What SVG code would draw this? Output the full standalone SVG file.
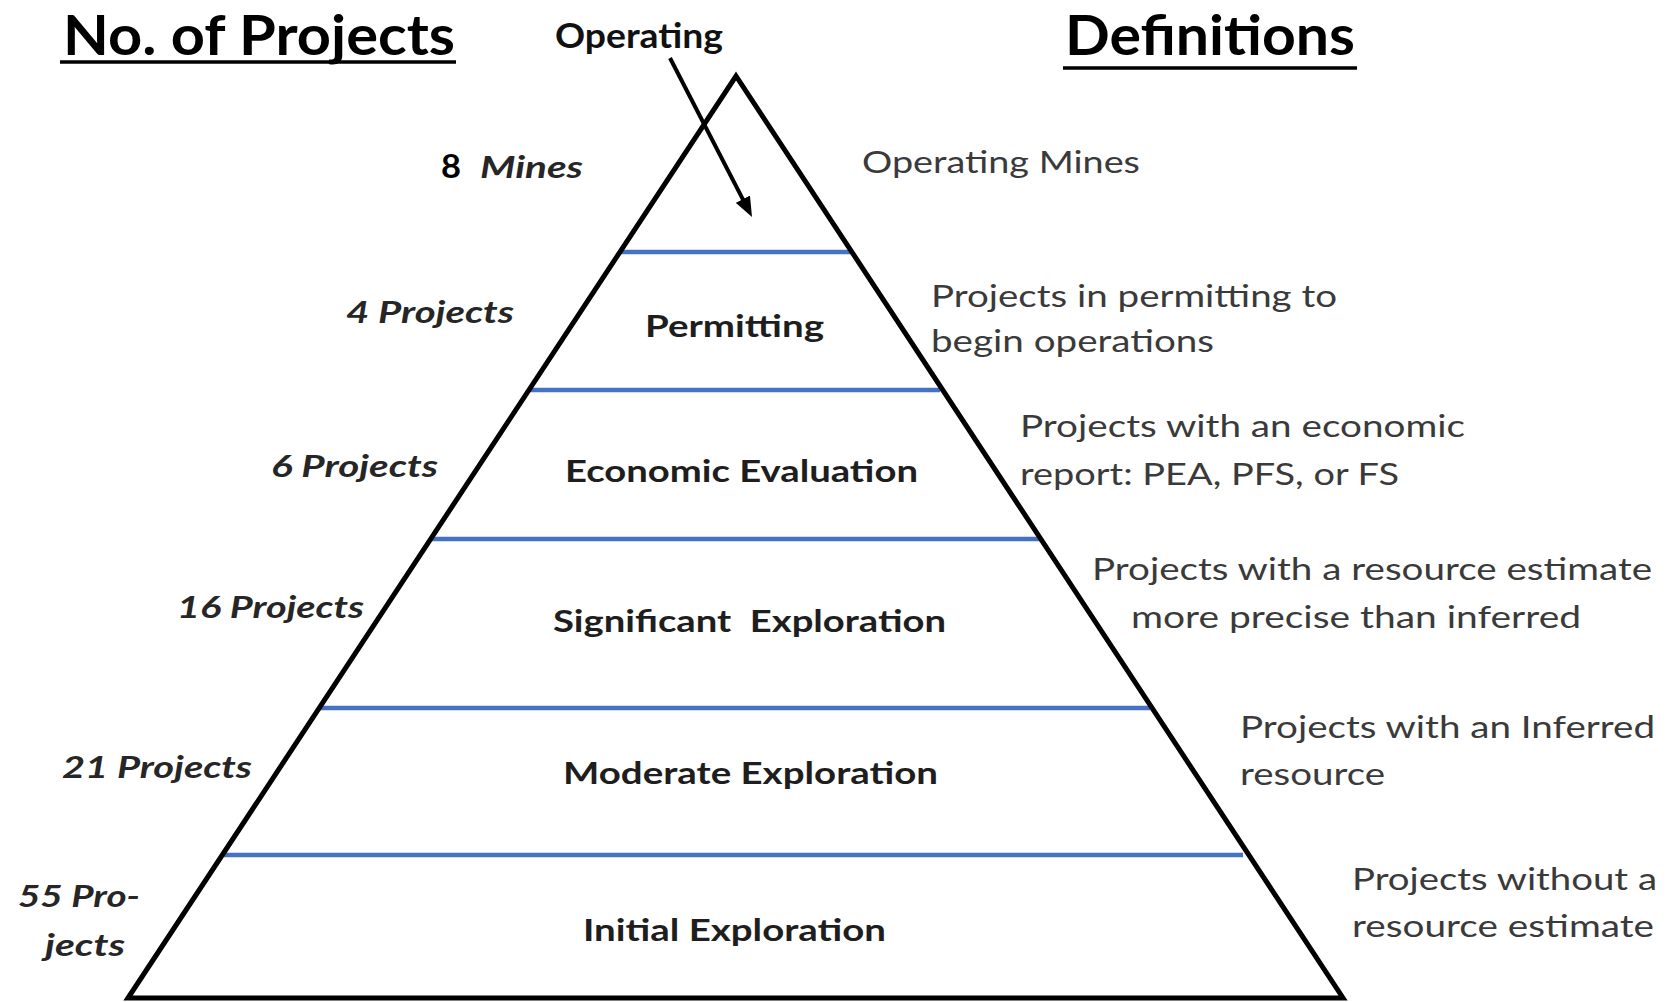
<svg xmlns="http://www.w3.org/2000/svg" width="1671" height="1002" viewBox="0 0 1671 1002">
<style>
text { font-family: Lato, "Open Sans", "Liberation Sans", sans-serif; }
.title { font-size: 56px; font-weight: 700; fill: #000; }
.op { font-size: 35px; font-weight: 700; fill: #111; }
.count { font-size: 31px; font-weight: 700; font-style: italic; fill: #262626; }
.num { font-size: 33px; font-weight: 700; fill: #000; }
.tier { font-size: 31px; font-weight: 700; fill: #1e1e1e; }
.def { font-size: 31px; font-weight: 400; fill: #3a3a3a; }
.ul { stroke: #000; stroke-width: 3.5; }
.band { stroke: #4472c4; stroke-width: 4.5; }
.edge { fill: none; stroke: #000; stroke-width: 5; stroke-linejoin: miter; }
.conn { stroke: #000; stroke-width: 4; fill: none; }
</style>
<defs>
<marker id="ah" viewBox="0 0 20 16" refX="8" refY="8" markerWidth="20" markerHeight="16" markerUnits="userSpaceOnUse" orient="auto">
<path d="M0,0 L20,8 L0,16 Z" fill="#000"/>
</marker>
</defs>
<rect x="0" y="0" width="1671" height="1002" fill="#fff"/>

<g id="headers">
<text class="title" x="63" y="55" textLength="392" lengthAdjust="spacingAndGlyphs">No. of Projects</text>
<line class="ul" x1="60" y1="62" x2="456" y2="62"/>
<text class="title" x="1065" y="55" textLength="290" lengthAdjust="spacingAndGlyphs">Definitions</text>
<line class="ul" x1="1063" y1="68" x2="1357" y2="68"/>
</g>

<g id="pyramid">
<line class="band" x1="620" y1="252" x2="852" y2="252"/>
<line class="band" x1="530" y1="390" x2="940" y2="390"/>
<line class="band" x1="432" y1="539" x2="1040" y2="539"/>
<line class="band" x1="320" y1="708" x2="1150" y2="708"/>
<line class="band" x1="224" y1="855" x2="1243" y2="855"/>
<path class="edge" d="M128,998 L736,76 L1343,998 Z"/>
</g>

<g id="operating">
<text class="op" x="555" y="48" textLength="168" lengthAdjust="spacingAndGlyphs">Operating</text>
<text class="num" x="441" y="178" textLength="20" lengthAdjust="spacingAndGlyphs">8</text>
<text class="count" x="480" y="178" textLength="103" lengthAdjust="spacingAndGlyphs">Mines</text>
<text class="def" x="862" y="173" textLength="278" lengthAdjust="spacingAndGlyphs">Operating Mines</text>
</g>

<g id="permitting">
<text class="count" x="346" y="323" textLength="168" lengthAdjust="spacingAndGlyphs">4 Projects</text>
<text class="tier" x="645" y="337" textLength="179" lengthAdjust="spacingAndGlyphs">Permitting</text>
<text class="def" x="931" y="307" textLength="406" lengthAdjust="spacingAndGlyphs">Projects in permitting to</text>
<text class="def" x="931" y="352" textLength="283" lengthAdjust="spacingAndGlyphs">begin operations</text>
</g>

<g id="economic-evaluation">
<text class="count" x="271" y="477" textLength="167" lengthAdjust="spacingAndGlyphs">6 Projects</text>
<text class="tier" x="565" y="482" textLength="353" lengthAdjust="spacingAndGlyphs">Economic Evaluation</text>
<text class="def" x="1020" y="437" textLength="445" lengthAdjust="spacingAndGlyphs">Projects with an economic</text>
<text class="def" x="1020" y="485" textLength="379" lengthAdjust="spacingAndGlyphs">report: PEA, PFS, or FS</text>
</g>

<g id="significant-exploration">
<text class="count" x="177" y="618" textLength="187" lengthAdjust="spacingAndGlyphs">16 Projects</text>
<text class="tier" x="553" y="632" textLength="393" lengthAdjust="spacingAndGlyphs" xml:space="preserve">Significant  Exploration</text>
<text class="def" x="1092" y="580" textLength="560" lengthAdjust="spacingAndGlyphs">Projects with a resource estimate</text>
<text class="def" x="1131" y="628" textLength="450" lengthAdjust="spacingAndGlyphs">more precise than inferred</text>
</g>

<g id="moderate-exploration">
<text class="count" x="62" y="778" textLength="190" lengthAdjust="spacingAndGlyphs">21 Projects</text>
<text class="tier" x="563" y="784" textLength="375" lengthAdjust="spacingAndGlyphs">Moderate Exploration</text>
<text class="def" x="1240" y="738" textLength="415" lengthAdjust="spacingAndGlyphs">Projects with an Inferred</text>
<text class="def" x="1240" y="785" textLength="145" lengthAdjust="spacingAndGlyphs">resource</text>
</g>

<g id="initial-exploration">
<text class="count" x="18" y="907" textLength="122" lengthAdjust="spacingAndGlyphs">55 Pro-</text>
<text class="count" x="45" y="956" textLength="80" lengthAdjust="spacingAndGlyphs">jects</text>
<text class="tier" x="583" y="941" textLength="303" lengthAdjust="spacingAndGlyphs">Initial Exploration</text>
<text class="def" x="1352" y="890" textLength="305" lengthAdjust="spacingAndGlyphs">Projects without a</text>
<text class="def" x="1352" y="937" textLength="302" lengthAdjust="spacingAndGlyphs">resource estimate</text>
</g>

<g id="connectors">
<path class="conn" d="M670,58 L746.5,206.3" marker-end="url(#ah)"/>
</g>
</svg>
